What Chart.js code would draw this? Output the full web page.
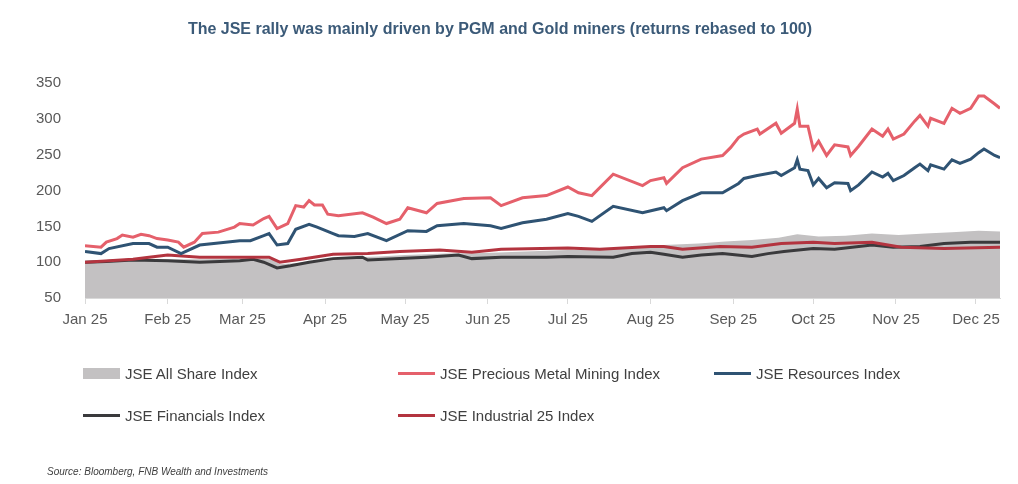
<!DOCTYPE html>
<html>
<head>
<meta charset="utf-8">
<script src="https://cdn.jsdelivr.net/npm/chart.js@4"></script>
<style>
  body { margin: 0; background: #fff; font-family: 'Liberation Sans', Arial, sans-serif; }
  #wrap { position: relative; width: 1018px; height: 484px; }
  .leg { position: absolute; display: flex; align-items: center; font-size: 15px; color: #404040; white-space: nowrap; }
  .leg i { display: inline-block; width: 37px; margin-right: 5px; }
  #source { position: absolute; left: 47px; top: 466px; font-size: 10px; font-style: italic; color: #404040; }
</style>
</head>
<body>
<div id="wrap">
  <canvas id="chart"></canvas>
  <div id="legend"></div>
  <div id="source">Source: Bloomberg, FNB Wealth and Investments</div>
</div>
<script>
'use strict'

// days counted from 1 Jan 2025
const monthStarts = [0, 31, 59, 90, 120, 151, 181, 212, 243, 273, 304, 334];
const monthLabels = ['Jan 25', 'Feb 25', 'Mar 25', 'Apr 25', 'May 25', 'Jun 25',
  'Jul 25', 'Aug 25', 'Sep 25', 'Oct 25', 'Nov 25', 'Dec 25'];
const yTicks = [50, 100, 150, 200, 250, 300, 350];

const allDays = [0,10,20,31,45,59,70,73,80,90,100,110,120,135,150,165,181,195,210,217,230,240,250,260,267,275,285,295,305,315,325,335,343];
const allVals = [100,101,103,104,104,105,104,97,99,104,107,108,110,112,113,115,117,119,122,124,126,129,131,134,139,136,137,140,138,140,142,144,143];

const presDays = [0,6,8,12,14,18,21,24,27,31,35,37,41,44,50,56,58,63,67,69,72,76,79,82,84,86,89,91,95,104,108,113,118,121,128,132,142,152,156,164,173,181,185,190,198,209,212,217,218,224,231,239,242,245,247,252,253,259,261,266,267,268,271,273,275,278,281,286,287,290,295,299,301,303,307,311,313,316,317,322,325,328,332,335,337,341,343];
const presVals = [123,121,128,133,138,135,139,137,133,131,128,121,128,140,142,149,154,152,161,164,147,154,179,177,186,180,180,167,165,169,163,154,160,176,169,182,189,190,179,190,193,205,197,193,223,207,214,218,210,232,244,249,260,274,279,286,279,294,280,294,314,290,290,258,269,249,264,261,249,262,286,276,286,272,279,297,305,290,301,294,315,308,315,332,332,321,315];

const resDays = [0,6,9,18,24,27,31,36,43,58,62,67,69,72,76,79,84,87,93,95,101,106,113,121,128,132,142,152,156,164,173,181,185,190,198,209,217,218,224,231,239,245,247,252,259,261,266,267,268,271,273,275,278,281,286,287,290,295,299,301,303,307,311,313,316,317,322,325,328,332,335,337,341,343];
const resVals = [115,112,119,126,126,121,121,112,124,130,130,137,140,124,126,146,153,149,140,137,136,140,130,144,143,151,154,151,147,155,160,168,164,157,178,169,176,172,186,197,197,210,217,221,226,221,232,243,230,228,208,217,204,211,210,200,208,226,219,224,214,221,232,237,228,236,230,243,238,244,253,258,249,246];

const finDays = [0,8,18,31,43,58,63,67,72,77,84,93,104,106,118,128,140,145,156,173,181,198,205,212,217,224,231,239,250,256,262,273,281,295,303,313,322,332,343];
const finVals = [100,101,103,102,100,102,104,100,92,95,100,105,107,103,105,107,110,105,107,107,108,107,112,114,111,107,110,112,108,112,115,119,118,124,121,122,126,128,128];

const indDays = [0,18,24,31,43,58,69,73,81,93,106,118,133,145,156,181,193,212,217,224,238,250,261,273,281,295,306,322,343];
const indVals = [100,104,107,110,107,107,107,100,104,111,112,115,117,114,118,120,118,122,122,118,122,121,126,128,126,128,121,119,121];

const pts = (days, vals) => days.map((d, i) => ({ x: d, y: vals[i] }));

const font = "'Liberation Sans', Arial, sans-serif";

const datasets = [
  { label: 'JSE All Share Index', data: pts(allDays, allVals), borderWidth: 0,
    borderColor: '#c3c1c2', backgroundColor: '#c3c1c2', fill: 'start', order: 5, box: true },
  { label: 'JSE Precious Metal Mining Index', data: pts(presDays, presVals),
    borderColor: '#e5606b', order: 1 },
  { label: 'JSE Resources Index', data: pts(resDays, resVals),
    borderColor: '#2f5373', order: 2 },
  { label: 'JSE Financials Index', data: pts(finDays, finVals),
    borderColor: '#3a3a3c', order: 4 },
  { label: 'JSE Industrial 25 Index', data: pts(indDays, indVals),
    borderColor: '#b3343f', order: 3 }
];
datasets.forEach(ds => {
  ds.pointRadius = 0;
  ds.tension = 0;
  if (ds.borderWidth === undefined) ds.borderWidth = 3;
  if (!ds.fill) ds.fill = false;
});

const ctx = document.getElementById('chart');

new Chart(ctx, {
  type: 'line',
  data: { datasets: datasets },
  options: {
    responsive: true,
    maintainAspectRatio: false,
    animation: false,
    layout: { padding: { left: 0, right: 18, top: 0, bottom: 148 } },
    scales: {
      x: {
        type: 'linear',
        min: 0,
        max: 343,
        afterBuildTicks: scale => { scale.ticks = monthStarts.map(v => ({ value: v })); },
        grid: { display: true, drawOnChartArea: false, drawTicks: true, tickLength: 6, color: '#d9d9d9' },
        border: { display: true, color: '#d9d9d9' },
        ticks: {
          color: '#595959', font: { family: font, size: 15 }, padding: 7, maxRotation: 0,
          autoSkip: false,
          callback: (v, i) => monthLabels[monthStarts.indexOf(v)]
        }
      },
      y: {
        min: 50,
        max: 350,
        afterBuildTicks: scale => { scale.ticks = yTicks.map(v => ({ value: v })); },
        afterFit: scale => { scale.width = 85; },
        grid: { display: false, drawTicks: false },
        border: { display: false },
        ticks: { color: '#595959', font: { family: font, size: 15 }, padding: 24 }
      }
    },
    plugins: {
      legend: { display: false },
      tooltip: { enabled: false },
      title: {
        display: true,
        text: 'The JSE rally was mainly driven by PGM and Gold miners (returns rebased to 100)',
        color: '#3b5a78',
        font: { family: font, size: 16, weight: 'bold' },
        padding: { top: 20, bottom: 44 }
      }
    }
  }
});

// legend laid out in a grid like the original
const legendPos = [[83, 373], [398, 373], [714, 373], [83, 415], [398, 415]];
const legendEl = document.getElementById('legend');
datasets.forEach((ds, i) => {
  const div = document.createElement('div');
  div.className = 'leg';
  div.style.left = legendPos[i][0] + 'px';
  div.style.top = (legendPos[i][1] - 9) + 'px';
  div.style.height = '18px';
  const mark = document.createElement('i');
  mark.style.height = ds.box ? '11px' : '3px';
  mark.style.background = ds.box ? ds.backgroundColor : ds.borderColor;
  div.appendChild(mark);
  div.appendChild(document.createTextNode(ds.label));
  legendEl.appendChild(div);
});
</script>
</body>
</html>
